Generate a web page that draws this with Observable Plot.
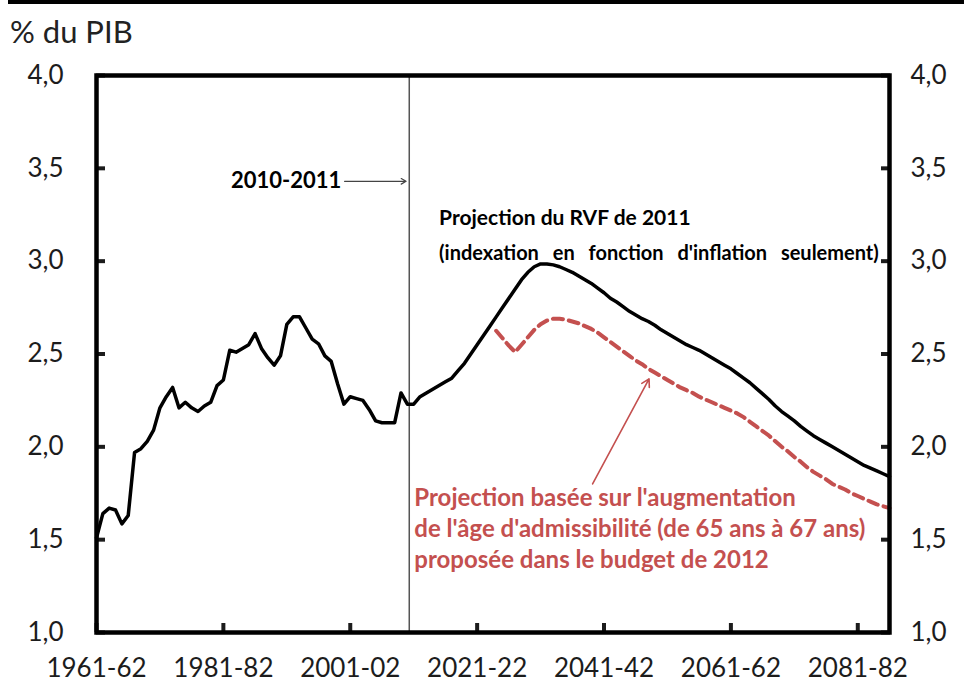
<!DOCTYPE html>
<html>
<head>
<meta charset="utf-8">
<script src="https://cdn.jsdelivr.net/npm/d3@7"></script>
<script src="https://cdn.jsdelivr.net/npm/@observablehq/plot@0.6"></script>
<style>
  html, body { margin: 0; padding: 0; background: #fff; }
  svg { display: block; }
</style>
</head>
<body>
<div id="chart"></div>
<script>
// ---- Data ----
const rvfStartYear = 1961;
// historical (1961-62 .. 2010-11)
const rvfHistory = [
  1.51, 1.64, 1.67, 1.66, 1.585, 1.63, 1.97, 1.99, 2.03, 2.09,
  2.21, 2.27, 2.32, 2.21, 2.24, 2.21, 2.19, 2.22, 2.24, 2.33,
  2.36, 2.52, 2.51, 2.53, 2.55, 2.61, 2.53, 2.48, 2.44, 2.49,
  2.66, 2.70, 2.70, 2.64, 2.58, 2.555, 2.49, 2.46, 2.34, 2.23,
  2.27, 2.26, 2.25, 2.20, 2.14, 2.13, 2.13, 2.13, 2.29, 2.23
];
// RVF 2011 projection (2011-12 .. 2086-87)
const rvfProjection = [
  2.23, 2.27, 2.29, 2.31, 2.33, 2.35, 2.37, 2.41, 2.45, 2.50,
  2.55, 2.60, 2.65, 2.70, 2.75, 2.80, 2.85, 2.90, 2.94, 2.97,
  2.985, 2.985, 2.98, 2.97, 2.955, 2.94, 2.92, 2.90, 2.88, 2.855,
  2.83, 2.80, 2.78, 2.755, 2.73, 2.71, 2.69, 2.675, 2.655, 2.63,
  2.61, 2.59, 2.57, 2.55, 2.535, 2.52, 2.50, 2.48, 2.46, 2.44,
  2.42, 2.395, 2.37, 2.345, 2.315, 2.285, 2.255, 2.22, 2.19, 2.165,
  2.14, 2.11, 2.085, 2.06, 2.04, 2.02, 2.00, 1.98, 1.96, 1.94,
  1.92, 1.90, 1.885, 1.87, 1.855, 1.84
];
// Projection with eligibility age 65 -> 67 (2024-25 .. 2086-87)
const reformStartYear = 2024;
const reformValues = [
  2.625, 2.585, 2.545, 2.51, 2.55, 2.59, 2.63, 2.66, 2.68, 2.69,
  2.69, 2.685, 2.675, 2.665, 2.65, 2.635, 2.615, 2.59, 2.565, 2.54,
  2.515, 2.49, 2.465, 2.445, 2.42, 2.40, 2.38, 2.36, 2.34, 2.32,
  2.305, 2.29, 2.27, 2.255, 2.24, 2.225, 2.21, 2.195, 2.18, 2.16,
  2.135, 2.11, 2.085, 2.06, 2.03, 2.00, 1.975, 1.945, 1.92, 1.89,
  1.865, 1.845, 1.825, 1.80, 1.785, 1.77, 1.75, 1.735, 1.72, 1.705,
  1.69, 1.68, 1.67
];
const xDomain = [1961, 2086];
const xTickYears = [1961, 1981, 2001, 2021, 2041, 2061, 2081];
const xTickLabels = ["1961-62", "1981-82", "2001-02", "2021-22", "2041-42", "2061-62", "2081-82"];
const yTicks = [1.0, 1.5, 2.0, 2.5, 3.0, 3.5, 4.0];
const yTickLabels = ["1,0", "1,5", "2,0", "2,5", "3,0", "3,5", "4,0"];
const dividerYear = 2010.3;
const yUnit = "% du PIB";
const labelDivider = "2010-2011";
const labelRvf = "Projection du RVF de 2011";
const labelRvfSub = "(indexation en fonction d'inflation seulement)";
const labelReform = "Projection basée sur l'augmentation\nde l'âge d'admissibilité (de 65 ans à 67 ans)\nproposée dans le budget de 2012";

// ---- Build tables ----
const rvf = rvfHistory.concat(rvfProjection).map((v, i) => ({year: rvfStartYear + i, value: v}));
const reform = reformValues.map((v, i) => ({year: reformStartYear + i, value: v}));

const RED = "#c4504f";
const FONT = "Lato, 'Open Sans', sans-serif";

const chart = Plot.plot({
  width: 964,
  height: 689,
  marginLeft: 96,
  marginRight: 75,
  marginTop: 75,
  marginBottom: 57,
  style: {fontFamily: FONT, background: "#fff", color: "#1c1c1c"},
  x: {domain: xDomain},
  y: {domain: [1, 4]},
  marks: [
    Plot.ruleX([dividerYear], {stroke: "#555", strokeWidth: 1.5}),
    Plot.line(reform, {x: "year", y: "value", stroke: RED, strokeWidth: 4, strokeDasharray: "10,6"}),
    Plot.line(rvf, {x: "year", y: "value", stroke: "#000", strokeWidth: 3.5, curve: "linear"}),
    Plot.axisY({anchor: "left", ticks: yTicks, tickFormat: d => yTickLabels[yTicks.indexOf(d)],
      tickSize: -9, tickPadding: 42, strokeWidth: 4, fontSize: 26, label: null}),
    Plot.axisY({anchor: "right", ticks: yTicks, tickFormat: d => yTickLabels[yTicks.indexOf(d)],
      tickSize: -9, tickPadding: 30, strokeWidth: 4, fontSize: 26, label: null}),
    Plot.axisX({anchor: "bottom", ticks: xTickYears, tickFormat: d => xTickLabels[xTickYears.indexOf(d)],
      tickSize: -9, tickPadding: 35, strokeWidth: 4, fontSize: 26, label: null}),
    Plot.frame({stroke: "#000", strokeWidth: 4.5}),
    // annotations
    Plot.text([{x: 1999.6, y: 3.43, t: labelDivider}], {x: "x", y: "y", text: "t", textAnchor: "end",
      fontWeight: "bold", fontSize: 22, fill: "#000"}),
    Plot.arrow([{x1: 2000.1, x2: 2009.8, y: 3.43}], {x1: "x1", x2: "x2", y1: "y", y2: "y",
      stroke: "#444", strokeWidth: 1.2, headLength: 7}),
    Plot.text([{x: 2015, y: 3.23, t: labelRvf}], {x: "x", y: "y", text: "t", textAnchor: "start",
      fontWeight: "bold", fontSize: 21, fill: "#000"}),
    Plot.text([{x: 2015, y: 3.041, t: labelRvfSub}], {x: "x", y: "y", text: "t", textAnchor: "start",
      fontWeight: "bold", fontSize: 20, fill: "#000", className: "lbl-rvfsub"}),
    Plot.text([{x: 2011.1, y: 1.566, t: labelReform}], {x: "x", y: "y", text: "t", textAnchor: "start",
      lineAnchor: "middle", lineHeight: 31 / 24, fontWeight: "bold", fontSize: 24, fill: RED}),
    Plot.arrow([{x1: 2039.2, y1: 1.80, x2: 2048.1, y2: 2.366}], {x1: "x1", y1: "y1", x2: "x2", y2: "y2",
      stroke: RED, strokeWidth: 1.6, headLength: 8})
  ]
});

const svg = d3.select(chart);
svg.selectAll(".lbl-rvfsub text").style("word-spacing", "9px");
svg.append("rect").attr("x", 8).attr("y", 0).attr("width", 956).attr("height", 4).attr("fill", "#000");
svg.append("text").attr("x", 10).attr("y", 43).attr("font-size", 31).attr("fill", "#222")
  .attr("text-anchor", "start").attr("font-family", FONT).text(yUnit);

document.getElementById("chart").appendChild(chart);
</script>
</body>
</html>
